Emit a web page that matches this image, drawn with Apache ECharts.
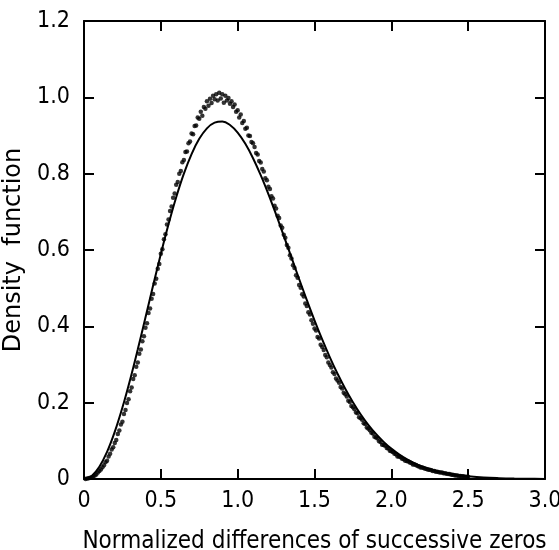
<!DOCTYPE html>
<html>
<head>
<meta charset="utf-8">
<script src="https://cdn.jsdelivr.net/npm/echarts@6/dist/echarts.min.js"></script>
<style>html,body{margin:0;padding:0;background:#fff}#c{width:559px;height:550px}</style>
</head>
<body>
<div id="c"></div>
<script>
// Tick labels
const xTicks = [0, 0.5, 1.0, 1.5, 2.0, 2.5, 3.0];
const yTicks = [0, 0.2, 0.4, 0.6, 0.8, 1.0, 1.2];
const xTitle = 'Normalized differences of successive zeros';
const yTitle = 'Density  function';

const curveX = [0,0.05,0.1,0.15,0.2,0.25,0.3,0.35,0.4,0.45,0.5,0.55,0.6,0.65,0.7,0.75,0.8,0.85,0.9,0.95,
  1.0,1.05,1.1,1.15,1.2,1.25,1.3,1.35,1.4,1.45,1.5,1.55,1.6,1.65,1.7,1.75,1.8,1.85,1.9,1.95,
  2.0,2.05,2.1,2.15,2.2,2.25,2.3,2.35,2.4,2.45,2.5,2.6,2.7,2.8,2.9,3.0];
const curveY = [0,0.0081,0.0320,0.0709,0.1233,0.1871,0.2602,0.3398,0.4232,0.5074,0.5896,0.6673,0.7381,0.8000,0.8514,0.8912,0.9187,0.9337,0.9365,0.9275,
  0.9076,0.8782,0.8405,0.7961,0.7465,0.6930,0.6372,0.5805,0.5240,0.4689,0.4158,0.3656,0.3188,0.2757,0.2365,0.2012,0.1698,0.1421,0.1181,0.0973,
  0.0796,0.0647,0.0521,0.0417,0.0331,0.0261,0.0204,0.0158,0.0122,0.0093,0.0071,0.0040,0.0022,0.0011,0.0005,0.0002];

// Dots: x starts at 0.01, step 0.01
const dotStart = 0.01, dotStep = 0.01;
const dotY = [
 0.000,0.001,0.002,0.003,0.004, 0.006,0.009,0.012,0.017,0.021,
 0.025,0.031,0.036,0.044,0.048, 0.059,0.066,0.077,0.083,0.094,
 0.102,0.118,0.127,0.143,0.150, 0.170,0.181,0.199,0.209,0.230,
 0.240,0.262,0.272,0.294,0.305, 0.328,0.339,0.361,0.374,0.396,
 0.408,0.435,0.447,0.472,0.485, 0.512,0.525,0.551,0.563,0.590,
 0.602,0.628,0.641,0.667,0.680, 0.702,0.714,0.737,0.748,0.771,
 0.778,0.800,0.807,0.830,0.836, 0.857,0.858,0.880,0.884,0.905,
 0.903,0.925,0.926,0.947,0.944, 0.962,0.952,0.975,0.970,0.990,
 0.978,0.996,0.985,1.004,0.995, 1.008,0.992,1.012,0.997,1.008,
 0.986,1.004,0.992,0.998,0.983, 0.990,0.975,0.981,0.962,0.966,
 0.947,0.955,0.933,0.938,0.918, 0.920,0.900,0.899,0.883,0.880,
 0.870,0.854,0.850,0.833,0.829, 0.812,0.806,0.788,0.783,0.766,
 0.760,0.741,0.735,0.716,0.709, 0.690,0.684,0.664,0.658,0.640,
 0.632,0.613,0.606,0.586,0.578, 0.560,0.553,0.534,0.527,0.508,
 0.501,0.484,0.478,0.460,0.453, 0.437,0.431,0.416,0.407,0.394,
 0.389,0.372,0.368,0.352,0.346, 0.338,0.325,0.319,0.305,0.299,
 0.292,0.280,0.275,0.263,0.258, 0.252,0.241,0.237,0.226,0.222,
 0.216,0.205,0.202,0.191,0.188, 0.183,0.174,0.172,0.162,0.159,
 0.155,0.146,0.144,0.135,0.132, 0.128,0.121,0.119,0.111,0.109,
 0.106,0.099,0.097,0.090,0.089, 0.087,0.081,0.080,0.074,0.073,
 0.071,0.066,0.065,0.059,0.059, 0.057,0.053,0.052,0.048,0.047,
 0.046,0.043,0.042,0.038,0.038, 0.037,0.034,0.033,0.030,0.030,
 0.029,0.027,0.026,0.024,0.024, 0.023,0.021,0.021,0.019,0.019,
 0.018,0.017,0.017,0.015,0.015, 0.014,0.013,0.013,0.011,0.011,
 0.010,0.009,0.009,0.008,0.008, 0.007,0.007,0.006,0.006,0.006
];

const curveData = curveX.map((x, i) => [x, curveY[i]]);
const dotData = dotY.map((y, i) => [+(dotStart + i * dotStep).toFixed(2), y]);

const COND = '"DejaVu Sans Condensed", "DejaVu Sans", sans-serif';
const REG = '"DejaVu Sans", sans-serif';
const chart = echarts.init(document.getElementById('c'), null, {renderer: 'canvas'});

const axisCommon = {
  axisLine: {show: true, onZero: false, lineStyle: {color: '#000', width: 2}},
  axisTick: {show: true, inside: true, length: 10, lineStyle: {color: '#000', width: 2}},
  splitLine: {show: false}
};
const fmt = ticks => v => { const t = ticks.find(k => Math.abs(k - v) < 1e-9); return t === 0 ? '0' : t.toFixed(1); };

chart.setOption({
  animation: false,
  backgroundColor: '#fff',
  grid: {left: 84, top: 21, right: 14, bottom: 71, containLabel: false, outerBoundsMode: 'none'},
  xAxis: [
    Object.assign({
      type: 'value', min: 0, max: 3, interval: 0.5, position: 'bottom',
      name: xTitle, nameLocation: 'middle', nameGap: 51,
      nameTextStyle: {fontFamily: COND, fontSize: 24, color: '#000', verticalAlign: 'top'},
      axisLabel: {fontFamily: COND, fontSize: 23, color: '#000', margin: 11, formatter: fmt(xTicks)}
    }, axisCommon),
    Object.assign({
      type: 'value', min: 0, max: 3, interval: 0.5, position: 'top',
      axisLabel: {show: false}
    }, axisCommon)
  ],
  yAxis: [
    Object.assign({
      type: 'value', min: 0, max: 1.2, interval: 0.2, position: 'left',
      name: yTitle, nameLocation: 'middle', nameGap: 62, nameRotate: 90,
      nameTextStyle: {fontFamily: REG, fontSize: 24, color: '#000', verticalAlign: 'middle'},
      axisLabel: {fontFamily: COND, fontSize: 23, color: '#000', margin: 14, formatter: fmt(yTicks)}
    }, axisCommon),
    Object.assign({
      type: 'value', min: 0, max: 1.2, interval: 0.2, position: 'right',
      axisLabel: {show: false}
    }, axisCommon)
  ],
  series: [
    {
      type: 'scatter', data: dotData, symbol: 'circle', symbolSize: 4.5,
      itemStyle: {color: '#000'}, silent: true
    },
    {
      type: 'line', data: curveData, showSymbol: false, smooth: 0.4,
      lineStyle: {color: '#000', width: 2}, silent: true
    }
  ]
});
</script>
</body>
</html>
